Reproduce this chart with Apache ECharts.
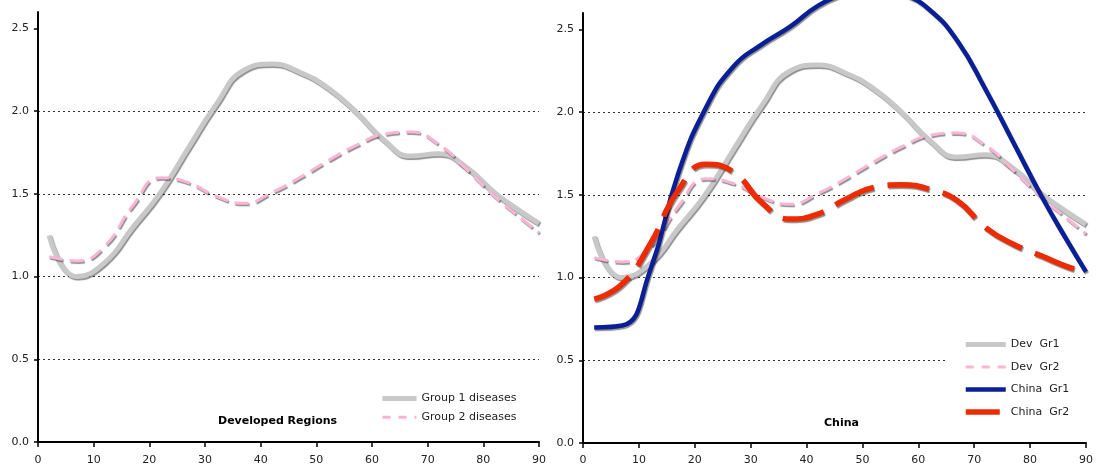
<!DOCTYPE html>
<html>
<head>
<meta charset="utf-8">
<script src="https://cdn.jsdelivr.net/npm/echarts@6/dist/echarts.min.js"></script>
<style>
    html, body { margin: 0; padding: 0; background: #fff; }
    #chart { width: 1096px; height: 466px; }
</style>
</head>
<body>
<div id="chart"></div>
<script>
// ages (x) where values were read
const ages = [2, 7, 12, 17, 22, 27, 32, 37, 42, 47, 52, 57, 62, 67, 72, 77, 82, 87, 90];

// developed regions
const devGr1 = [1.25, 1.0, 1.085, 1.296, 1.508, 1.777, 2.04, 2.248, 2.285, 2.236, 2.142, 2.0, 1.83, 1.729, 1.743, 1.659, 1.508, 1.387, 1.322];
const devGr2 = [1.121, 1.095, 1.185, 1.427, 1.598, 1.568, 1.487, 1.443, 1.508, 1.598, 1.699, 1.79, 1.86, 1.874, 1.8, 1.649, 1.487, 1.347, 1.265];

// china
const chinaGr1 = [0.699, 0.71, 1.042, 1.625, 2.028, 2.28, 2.41, 2.516, 2.643, 2.72, 2.77, 2.72, 2.62, 2.431, 2.139, 1.817, 1.495, 1.202, 1.035];
const chinaGr2 = [0.87, 0.961, 1.202, 1.525, 1.686, 1.636, 1.454, 1.354, 1.384, 1.474, 1.545, 1.561, 1.535, 1.465, 1.303, 1.202, 1.132, 1.062, 1.035];

const yTicks = [0, 0.5, 1.0, 1.5, 2.0, 2.5];

const font = "DejaVu Sans";
const pts = (ys) => ages.map((a, i) => [a, ys[i]]);

const shadow = {
    shadowColor: "rgba(0,0,0,0.45)",
    shadowOffsetX: 1,
    shadowOffsetY: 1.5,
    shadowBlur: 1,
};

const styles = {
    gr1: { color: "#c8c8c8", width: 5, type: "solid" },
    gr2: { color: "#fbb4d6", width: 3, type: [14, 7] },
    cn1: { color: "#0a1e96", width: 4.5, type: "solid" },
    cn2: { color: "#ee2a00", width: 5.5, type: [42, 14] },
};

function makeSeries(name, data, st, idx) {
    return {
        name: name,
        type: "line",
        data: data,
        xAxisIndex: idx,
        yAxisIndex: idx,
        smooth: 0.5,
        symbol: "none",
        clip: false,
        color: st.color,
        lineStyle: Object.assign({ color: st.color, width: st.width, type: st.type }, shadow),
    };
}

// legend entry: line only, no marker
function legendItem(name, st, dash) {
    return {
        name: name,
        itemStyle: { color: "rgba(0,0,0,0)", borderWidth: 0, opacity: 0 },
        lineStyle: { color: st.color, width: st.width, type: dash || st.type, shadowBlur: 0, shadowOffsetX: 0, shadowOffsetY: 0 },
    };
}

function xAxis(idx, margin) {
    return {
        type: "value",
        gridIndex: idx,
        min: 0,
        max: 90,
        interval: 10,
        axisLine: { show: true, lineStyle: { color: "#000", width: 2 } },
        axisTick: { show: true, length: 5, lineStyle: { color: "#000", width: 1.5 } },
        axisLabel: { color: "#222", fontSize: 11, fontFamily: font, margin: margin },
        splitLine: { show: false },
    };
}

function yAxis(idx) {
    return {
        type: "value",
        gridIndex: idx,
        min: 0,
        max: 2.6,
        interval: 0.5,
        axisLine: { show: true, lineStyle: { color: "#000", width: 2 } },
        axisTick: { show: true, length: 4, customValues: yTicks, lineStyle: { color: "#000", width: 1.5 } },
        axisLabel: {
            color: "#222",
            fontSize: 11,
            fontFamily: font,
            margin: 9,
            customValues: yTicks,
            formatter: (v) => v.toFixed(1),
        },
        splitLine: {
            show: true,
            showMinLine: false,
            showMaxLine: false,
            lineStyle: { color: "#333", width: 1, type: [2, 3] },
        },
    };
}

const chart = echarts.init(document.getElementById("chart"));
chart.setOption({
    animation: false,
    backgroundColor: "#fff",
    textStyle: { fontFamily: font },
    title: [
        {
            text: "Developed Regions",
            left: 213,
            top: 411,
            textStyle: { fontSize: 11, fontWeight: "bold", color: "#000", fontFamily: font },
        },
        {
            text: "China",
            left: 819,
            top: 413,
            textStyle: { fontSize: 11, fontWeight: "bold", color: "#000", fontFamily: font },
        },
    ],
    legend: [
        {
            data: [
                legendItem("Group 1 diseases", styles.gr1),
                legendItem("Group 2 diseases", styles.gr2, [8, 8]),
            ],
            orient: "vertical",
            left: 380,
            top: 393,
            padding: 0,
            itemWidth: 34,
            itemHeight: 14,
            itemGap: 7.5,
            backgroundColor: "#fff",
            textStyle: { fontSize: 11, color: "#222", fontFamily: font },
        },
        {
            data: [
                legendItem("Dev  Gr1", styles.gr1),
                legendItem("Dev  Gr2", styles.gr2, [8, 8]),
                legendItem("China  Gr1", styles.cn1),
                legendItem("China  Gr2", styles.cn2, [34, 10]),
            ],
            orient: "vertical",
            left: 946,
            top: 331,
            padding: [8, 19, 8, 17],
            itemWidth: 40,
            itemHeight: 14,
            itemGap: 11.3,
            backgroundColor: "#fff",
            textStyle: { fontSize: 11, color: "#222", fontFamily: font },
        },
    ],
    grid: [
        { left: 38, width: 501, top: 12, height: 431 },
        { left: 583, width: 506, top: 13, height: 433 },
    ],
    xAxis: [xAxis(0, 13), xAxis(1, 12)],
    yAxis: [yAxis(0), yAxis(1)],
    series: [
        makeSeries("Group 1 diseases", pts(devGr1), styles.gr1, 0),
        makeSeries("Group 2 diseases", pts(devGr2), styles.gr2, 0),
        makeSeries("Dev  Gr1", pts(devGr1), styles.gr1, 1),
        makeSeries("Dev  Gr2", pts(devGr2), styles.gr2, 1),
        makeSeries("China  Gr1", pts(chinaGr1), styles.cn1, 1),
        makeSeries("China  Gr2", pts(chinaGr2), styles.cn2, 1),
    ],
});
</script>
</body>
</html>
